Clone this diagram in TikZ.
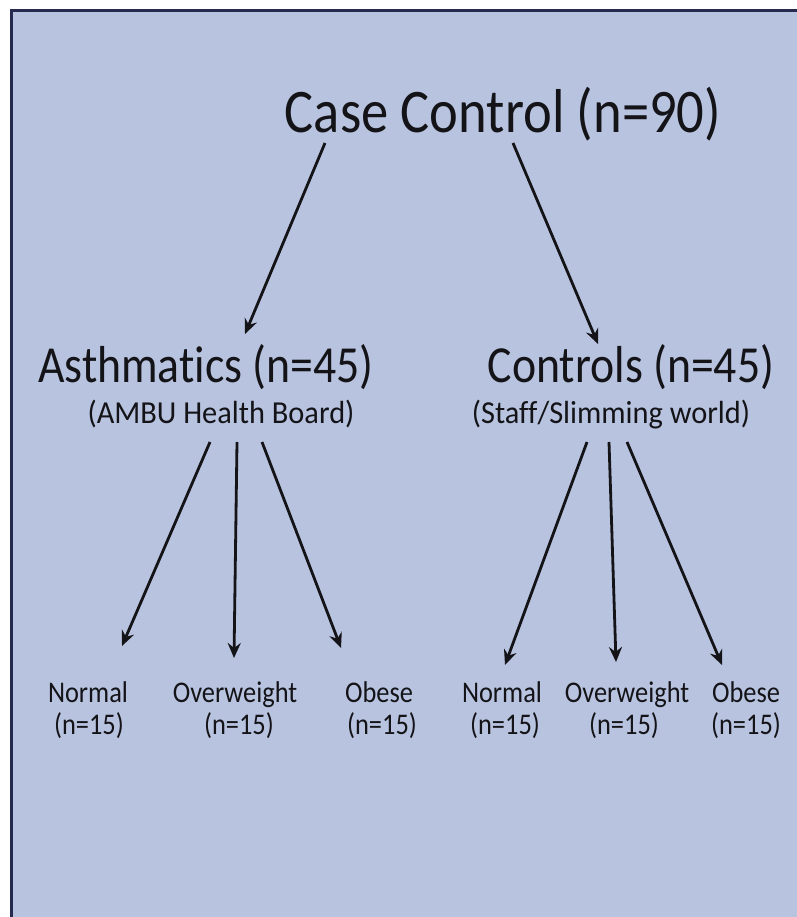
\documentclass[tikz,border=0pt]{standalone}
\usepackage{fontspec}
\setmainfont[FakeStretch=0.88,Ligatures=NoCommon]{Carlito}
\newfontfamily\subfont[FakeStretch=0.95,Ligatures=NoCommon]{Carlito}
\usetikzlibrary{arrows.meta}
\definecolor{bgblue}{RGB}{184,195,223}
\definecolor{framenavy}{RGB}{38,42,78}
\definecolor{ink}{RGB}{20,20,24}
\tikzset{
  lbl/.style={anchor=base, inner sep=0pt, text=ink},
  big/.style={lbl, font=\fontsize{62}{62}\selectfont},
  mid/.style={lbl, font=\fontsize{52}{52}\selectfont},
  sub/.style={lbl, font=\subfont\fontsize{32}{32}\selectfont},
  small/.style={lbl, font=\fontsize{30}{30}\selectfont},
  arr/.style={draw=ink, line width=2.8pt, -{Stealth[length=15pt,width=13pt,inset=5pt]}},
}
\begin{document}
\begin{tikzpicture}[x=1pt,y=-1pt]
\useasboundingbox (0,0) rectangle (796,917);
\fill[white] (0,0) rectangle (796,917);
\fill[bgblue] (11,11) rectangle (800,921);
\draw[framenavy, line width=3pt] (11,921) -- (11,11) -- (800,11);

\node[big] (cc) at (503,133) {Case Control (n=90)};
\node[mid] (ast) at (206,382) {Asthmatics (n=45)};
\node[sub] (ambu) at (221,423) {(AMBU Health Board)};
\node[mid] (con) at (631,382) {Controls (n=45)};
\node[sub] (staff) at (611,423) {(Staff/Slimming world)};

\node[small] (n1) at (88,702) {Normal};
\node[small] (n1n) at (89,734) {(n=15)};
\node[small] (o1) at (235,702) {Overweight};
\node[small] (o1n) at (239,734) {(n=15)};
\node[small] (b1) at (379,702) {Obese};
\node[small] (b1n) at (382,734) {(n=15)};
\node[small] (n2) at (502,702) {Normal};
\node[small] (n2n) at (505,734) {(n=15)};
\node[small] (o2) at (627,702) {Overweight};
\node[small] (o2n) at (624,734) {(n=15)};
\node[small] (b2) at (746,702) {Obese};
\node[small] (b2n) at (746,734) {(n=15)};

% arrow start points and tips
\coordinate (s1) at (325,143);
\coordinate (t1) at (245,334);
\coordinate (s2) at (513,143);
\coordinate (t2) at (598,344);

\coordinate (sa1) at (210,442);
\coordinate (ta1) at (122,646);
\coordinate (sa2) at (237,442);
\coordinate (ta2) at (234,658);
\coordinate (sa3) at (262,442);
\coordinate (ta3) at (341,648);

\coordinate (sc1) at (587,442);
\coordinate (tc1) at (505,665);
\coordinate (sc2) at (609,442);
\coordinate (tc2) at (616,662);
\coordinate (sc3) at (627,442);
\coordinate (tc3) at (722,665);

\draw[arr] (s1) -- (t1);
\draw[arr] (s2) -- (t2);
\draw[arr] (sa1) -- (ta1);
\draw[arr] (sa2) -- (ta2);
\draw[arr] (sa3) -- (ta3);
\draw[arr] (sc1) -- (tc1);
\draw[arr] (sc2) -- (tc2);
\draw[arr] (sc3) -- (tc3);
\end{tikzpicture}
\end{document}
